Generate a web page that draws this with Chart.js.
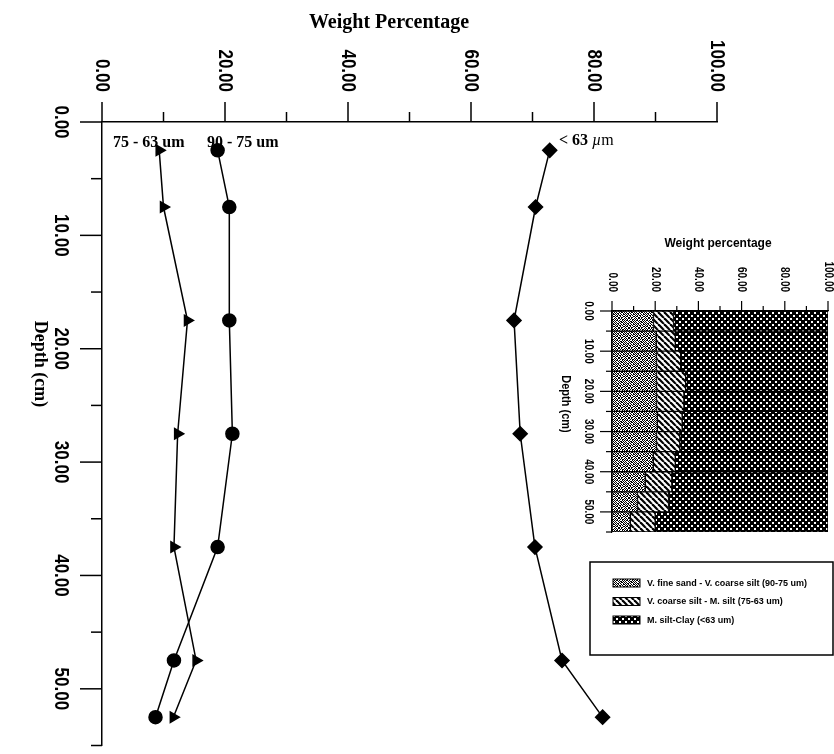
<!DOCTYPE html>
<html>
<head>
<meta charset="utf-8">
<script src="https://cdn.jsdelivr.net/npm/chart.js@4/dist/chart.umd.min.js"></script>
<style>
  html, body { margin: 0; padding: 0; background: #fff; }
  #wrap { position: relative; width: 834px; height: 754px; overflow: hidden; }
  #main { position: absolute; left: 0; top: 0; }
  #inset { position: absolute; left: 556px; top: 228px; }
</style>
</head>
<body>
<div id="wrap">
  <canvas id="main" width="834" height="754"></canvas>
  <canvas id="inset" width="278" height="435"></canvas>
</div>
<script>
// ---- Depth profiles (main plot) ----
const depthCm = [2.5, 7.5, 17.5, 27.5, 37.5, 47.5, 52.5];
const pct75to63 = [9.3, 10.0, 13.9, 12.3, 11.7, 15.3, 11.6];
const pct90to75 = [18.8, 20.7, 20.7, 21.2, 18.8, 11.7, 8.7];
const pctBelow63 = [72.8, 70.5, 67.0, 68.0, 70.4, 74.8, 81.4];
const seriesNames = ['75 - 63 um', '90 - 75 um', '< 63 \u00B5m'];

const weightTicks = [0, 20, 40, 60, 80, 100];
const weightMinorTicks = [10, 30, 50, 70, 90];
const depthTicks = [0, 10, 20, 30, 40, 50];
const depthMinorTicks = [5, 15, 25, 35, 45, 55];

// ---- Stacked composition (small plot) ----
const insetDepth = [2.5, 7.5, 12.5, 17.5, 22.5, 27.5, 32.5, 37.5, 42.5, 47.5, 52.5];
const insetFineSand = [19.2, 20.5, 20.6, 20.6, 20.6, 21.0, 20.6, 19.1, 15.4, 11.8, 8.5];
const insetCoarseSilt = [9.3, 8.8, 11.2, 13.5, 12.7, 11.5, 10.8, 10.2, 12.3, 14.4, 11.5];
const insetSiltClay = [71.5, 70.7, 68.2, 65.9, 66.7, 67.5, 68.6, 70.7, 72.3, 73.8, 80.0];
const insetLegend = [
  'V. fine sand - V. coarse silt (90-75 um)',
  'V. coarse silt - M. silt (75-63 um)',
  'M. silt-Clay (<63 um)'
];

const fmt = v => v.toFixed(2);
const pts = vals => vals.map((v, i) => ({ x: v, y: depthCm[i] }));

// ---- fill patterns ----
function makePattern(size, paint) {
  const c = document.createElement('canvas');
  c.width = size; c.height = size;
  const g = c.getContext('2d');
  paint(g, size);
  return document.getElementById('inset').getContext('2d').createPattern(c, 'repeat');
}
const sandBits = [
  '1011010010',
  '0100101101',
  '1101001010',
  '0010110101',
  '1001011010',
  '0110100101',
  '1010010110',
  '0101101001',
  '1100100110',
  '0011011001'
];
const sandPattern = makePattern(10, (g, s) => {
  g.fillStyle = '#fff'; g.fillRect(0, 0, s, s);
  g.fillStyle = '#000';
  sandBits.forEach((row, r) => {
    for (let c = 0; c < row.length; c++) if (row[c] === '1') g.fillRect(c, r, 1, 1);
  });
});
const hatchPattern = makePattern(6, (g, s) => {
  g.fillStyle = '#fff'; g.fillRect(0, 0, s, s);
  g.strokeStyle = '#000'; g.lineWidth = 2.2;
  for (let k = -2; k <= 2; k++) {
    g.beginPath(); g.moveTo(k * s, 0); g.lineTo(k * s + s, s); g.stroke();
  }
});
const clayPattern = makePattern(6, (g, s) => {
  g.fillStyle = '#000'; g.fillRect(0, 0, s, s);
  g.fillStyle = '#fff';
  g.fillRect(0, 0, 2, 2);
  g.fillRect(3, 3, 2, 2);
});

// ---- rotated text helper (reads top to bottom) ----
function vText(ctx, text, x, y, align, stretch) {
  ctx.save();
  ctx.translate(x, y);
  ctx.rotate(Math.PI / 2);
  ctx.scale(1, stretch || 1);
  ctx.textAlign = align;
  ctx.textBaseline = 'middle';
  ctx.fillText(text, 0, 0);
  ctx.restore();
}
function line(ctx, x1, y1, x2, y2) {
  ctx.beginPath(); ctx.moveTo(x1, y1); ctx.lineTo(x2, y2); ctx.stroke();
}

// ---- main plot decorations: ticks, tick labels, titles, series names ----
const mainDecor = {
  id: 'mainDecor',
  afterDraw(chart) {
    const { ctx, chartArea: a } = chart;
    const xs = chart.scales.x, ys = chart.scales.y;
    ctx.save();
    ctx.strokeStyle = '#000';
    ctx.lineWidth = 1.5;
    weightTicks.forEach(v => { const p = xs.getPixelForValue(v); line(ctx, p, a.top, p, a.top - 20); });
    weightMinorTicks.forEach(v => { const p = xs.getPixelForValue(v); line(ctx, p, a.top, p, a.top - 10); });
    depthTicks.forEach(v => { const p = ys.getPixelForValue(v); line(ctx, a.left, p, a.left - 22, p); });
    depthMinorTicks.forEach(v => { const p = ys.getPixelForValue(v); line(ctx, a.left, p, a.left - 11, p); });

    ctx.fillStyle = '#000';
    ctx.font = 'bold 17px "Liberation Sans", Arial, sans-serif';
    weightTicks.forEach(v => vText(ctx, fmt(v), xs.getPixelForValue(v), a.top - 30, 'right', 1.2));
    depthTicks.forEach(v => vText(ctx, fmt(v), 61, ys.getPixelForValue(v), 'center', 1.2));

    ctx.font = 'bold 18px "Liberation Serif", "Times New Roman", serif';
    vText(ctx, 'Depth (cm)', 40, 364, 'center', 1);

    ctx.font = 'bold 20px "Liberation Serif", "Times New Roman", serif';
    ctx.textAlign = 'center';
    ctx.textBaseline = 'alphabetic';
    ctx.fillText('Weight Percentage', 389, 28);

    ctx.font = 'bold 16px "Liberation Serif", "Times New Roman", serif';
    ctx.textAlign = 'left';
    ctx.textBaseline = 'middle';
    ctx.fillText(seriesNames[0], 113, 143);
    ctx.fillText(seriesNames[1], 207, 143);
    // "< 63 µm" with an italic mu
    let x0 = 559;
    ctx.fillText('< 63 ', x0, 141);
    x0 += ctx.measureText('< 63 ').width;
    ctx.font = 'italic 16px "Liberation Serif", "Times New Roman", serif';
    ctx.fillText('\u00B5', x0, 141);
    x0 += ctx.measureText('\u00B5').width;
    ctx.font = '16px "Liberation Serif", "Times New Roman", serif';
    ctx.fillText('m', x0, 141);
    ctx.restore();
  }
};

const lineStyle = {
  showLine: true,
  borderColor: '#000',
  backgroundColor: '#000',
  pointBackgroundColor: '#000',
  pointBorderColor: '#000',
  borderWidth: 1.5,
  tension: 0,
  clip: false
};

const axisBase = {
  grid: { display: false, drawTicks: false, tickLength: 0 },
  border: { display: true, color: '#000', width: 1.5 },
  ticks: { display: false }
};

new Chart(document.getElementById('main'), {
  type: 'scatter',
  data: {
    datasets: [
      Object.assign({ label: seriesNames[0], data: pts(pct75to63), pointStyle: 'triangle', pointRotation: 90, pointRadius: 6 }, lineStyle),
      Object.assign({ label: seriesNames[1], data: pts(pct90to75), pointStyle: 'circle', pointRadius: 6.5 }, lineStyle),
      Object.assign({ label: seriesNames[2], data: pts(pctBelow63), pointStyle: 'rectRot', pointRadius: 7 }, lineStyle)
    ]
  },
  options: {
    responsive: false,
    animation: false,
    layout: { padding: { left: 102, top: 122, right: 117, bottom: 4 } },
    plugins: { legend: { display: false }, tooltip: { enabled: false } },
    scales: {
      x: Object.assign({ type: 'linear', position: 'top', min: 0, max: 100 }, axisBase),
      y: Object.assign({ type: 'linear', position: 'left', min: 0, max: 55, reverse: true }, axisBase)
    }
  },
  plugins: [mainDecor]
});

// ---- small stacked plot decorations ----
const insetPatterns = [sandPattern, hatchPattern, clayPattern];
const insetDecor = {
  id: 'insetDecor',
  afterDraw(chart) {
    const { ctx, chartArea: a } = chart;
    const xs = chart.scales.x, ys = chart.scales.y;
    ctx.save();
    ctx.strokeStyle = '#000';
    ctx.lineWidth = 1.2;
    weightTicks.forEach(v => { const p = xs.getPixelForValue(v); line(ctx, p, a.top, p, a.top - 10); });
    weightMinorTicks.forEach(v => { const p = xs.getPixelForValue(v); line(ctx, p, a.top, p, a.top - 5); });
    depthTicks.forEach(v => { const p = ys.getPixelForValue(v); line(ctx, a.left, p, a.left - 12, p); });
    depthMinorTicks.forEach(v => { const p = ys.getPixelForValue(v); line(ctx, a.left, p, a.left - 6, p); });

    ctx.fillStyle = '#000';
    ctx.font = 'bold 10px "Liberation Sans", Arial, sans-serif';
    weightTicks.forEach(v => vText(ctx, fmt(v), xs.getPixelForValue(v), 64, 'right', 1.25));
    depthTicks.forEach(v => vText(ctx, fmt(v), 32, ys.getPixelForValue(v), 'center', 1.25));

    ctx.font = 'bold 11px "Liberation Sans", Arial, sans-serif';
    vText(ctx, 'Depth (cm)', 10, 176, 'center', 1.2);

    ctx.font = 'bold 12px "Liberation Sans", Arial, sans-serif';
    ctx.textAlign = 'center';
    ctx.textBaseline = 'middle';
    ctx.fillText('Weight percentage', 162, 16);

    // legend box
    ctx.lineWidth = 1.5;
    ctx.strokeRect(34, 334, 243, 93);
    ctx.font = 'bold 9px "Liberation Sans", Arial, sans-serif';
    ctx.textAlign = 'left';
    const rowsY = [355, 373.5, 392];
    insetLegend.forEach((txt, i) => {
      ctx.fillStyle = insetPatterns[i];
      ctx.fillRect(57, rowsY[i] - 4, 27, 8);
      ctx.lineWidth = 1;
      ctx.strokeRect(57, rowsY[i] - 4, 27, 8);
      ctx.fillStyle = '#000';
      ctx.fillText(txt, 91, rowsY[i] + 0.5, 180);
    });
    ctx.restore();
  }
};

const barStyle = {
  borderColor: '#000',
  borderWidth: 1,
  borderSkipped: false,
  barPercentage: 1,
  categoryPercentage: 1
};

new Chart(document.getElementById('inset'), {
  type: 'bar',
  data: {
    datasets: [
      Object.assign({ label: insetLegend[0], data: insetDepth.map((d, i) => ({ x: insetFineSand[i], y: d })), backgroundColor: sandPattern }, barStyle),
      Object.assign({ label: insetLegend[1], data: insetDepth.map((d, i) => ({ x: insetCoarseSilt[i], y: d })), backgroundColor: hatchPattern }, barStyle),
      Object.assign({ label: insetLegend[2], data: insetDepth.map((d, i) => ({ x: insetSiltClay[i], y: d })), backgroundColor: clayPattern }, barStyle)
    ]
  },
  options: {
    indexAxis: 'y',
    responsive: false,
    animation: false,
    layout: { padding: { left: 56, top: 83, right: 6, bottom: 131 } },
    plugins: { legend: { display: false }, tooltip: { enabled: false } },
    scales: {
      x: {
        type: 'linear', position: 'top', min: 0, max: 100, stacked: true,
        grid: { display: false, drawTicks: false, tickLength: 0 },
        border: { display: true, color: '#000', width: 1.2 },
        ticks: { display: false }
      },
      y: {
        type: 'linear', position: 'left', min: 0, max: 55, reverse: true, stacked: true, offset: false,
        grid: { display: false, drawTicks: false, tickLength: 0, offset: false },
        border: { display: true, color: '#000', width: 1.2 },
        ticks: { display: false }
      }
    }
  },
  plugins: [insetDecor]
});
</script>
</body>
</html>
